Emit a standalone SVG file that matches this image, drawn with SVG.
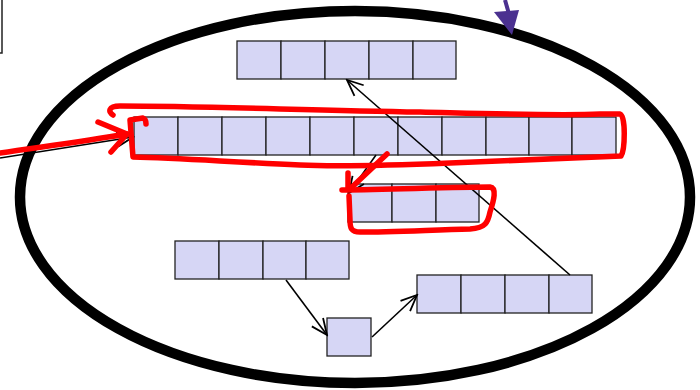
<svg xmlns="http://www.w3.org/2000/svg" width="700" height="390" viewBox="0 0 700 390">
<defs>
<style>
.cell{fill:#d6d6f5;stroke:#222;stroke-width:1.3}
.conn{fill:none;stroke:#000;stroke-width:1.6}
.red{fill:none;stroke:#ff0000;stroke-width:5.5;stroke-linecap:round;stroke-linejoin:round}
</style>
<marker id="arr" viewBox="0 0 20 20" refX="18" refY="10" markerWidth="20" markerHeight="20" markerUnits="userSpaceOnUse" orient="auto">
<path d="M2,3 L18,10 L2,17" fill="none" stroke="#000" stroke-width="1.8"/>
</marker>
</defs>
<rect width="700" height="390" fill="#fff"/>
<g id="frame-corner"><rect x="-50" y="-10" width="52" height="63" fill="#fff" stroke="#222" stroke-width="1.5"/></g>
<g id="heap"><ellipse cx="355" cy="197" rx="335" ry="186" fill="none" stroke="#000" stroke-width="10.5"/></g>
<g id="pointer"><line x1="505" y1="0" x2="509" y2="14" stroke="#4b3190" stroke-width="4"/><polygon points="494,12 519,10 512,35" fill="#4b3190"/></g>
<g id="array5">
<rect class="cell" x="237" y="41" width="44" height="38"/><rect class="cell" x="281" y="41" width="44" height="38"/><rect class="cell" x="325" y="41" width="44" height="38"/><rect class="cell" x="369" y="41" width="44" height="38"/><rect class="cell" x="413" y="41" width="43" height="38"/>
</g>
<g id="array11">
<rect class="cell" x="134" y="117" width="44" height="38"/><rect class="cell" x="178" y="117" width="44" height="38"/><rect class="cell" x="222" y="117" width="44" height="38"/><rect class="cell" x="266" y="117" width="44" height="38"/><rect class="cell" x="310" y="117" width="44" height="38"/><rect class="cell" x="354" y="117" width="44" height="38"/><rect class="cell" x="398" y="117" width="44" height="38"/><rect class="cell" x="442" y="117" width="44" height="38"/><rect class="cell" x="486" y="117" width="43" height="38"/><rect class="cell" x="529" y="117" width="43" height="38"/><rect class="cell" x="572" y="117" width="44" height="38"/>
</g>
<g id="array3">
<rect class="cell" x="348" y="184" width="44" height="38"/><rect class="cell" x="392" y="184" width="44" height="38"/><rect class="cell" x="436" y="184" width="43" height="38"/>
</g>
<g id="array4a">
<rect class="cell" x="175" y="241" width="44" height="38"/><rect class="cell" x="219" y="241" width="44" height="38"/><rect class="cell" x="263" y="241" width="43" height="38"/><rect class="cell" x="306" y="241" width="43" height="38"/>
</g>
<g id="array4b">
<rect class="cell" x="417" y="275" width="44" height="38"/><rect class="cell" x="461" y="275" width="44" height="38"/><rect class="cell" x="505" y="275" width="44" height="38"/><rect class="cell" x="549" y="275" width="43" height="38"/>
</g>
<g id="single"><rect class="cell" x="327" y="318" width="44" height="38"/></g>
<g id="connectors">
<line class="conn" x1="0" y1="158" x2="133" y2="137" marker-end="url(#arr)"/>
<line class="conn" x1="570" y1="275" x2="347" y2="80" marker-end="url(#arr)"/>
<line class="conn" x1="376" y1="155" x2="349" y2="193" marker-end="url(#arr)"/>
<line class="conn" x1="286" y1="280" x2="327" y2="335" marker-end="url(#arr)"/>
<line class="conn" x1="372" y1="337" x2="417" y2="295" marker-end="url(#arr)"/>
</g>
<g id="annotations">
<path class="red" d="M0,153 C40,147 80,142 127,134"/>
<path class="red" d="M98,122 L127,134 L111,152"/>
<path class="red" d="M113,115 C108,112 108,106 120,106 C200,106 300,110 420,112 C500,114 560,116 600,114 L620,114 C626,116 625,150 621,156 C580,158 520,160 450,163 C400,165 340,167 300,165 C230,162 180,158 133,157 L130,120 L143,118 C146,119 146,122 146,124"/>
<path class="red" d="M387,154 L352,187"/>
<path class="red" d="M348,173 L348,190 M342,190 C400,189 460,187 490,187 C497,188 494,200 490,212 C488,222 486,228 470,229 C430,230 390,232 360,232 C351,232 350,228 350,220 L349,196"/>
</g>
</svg>
